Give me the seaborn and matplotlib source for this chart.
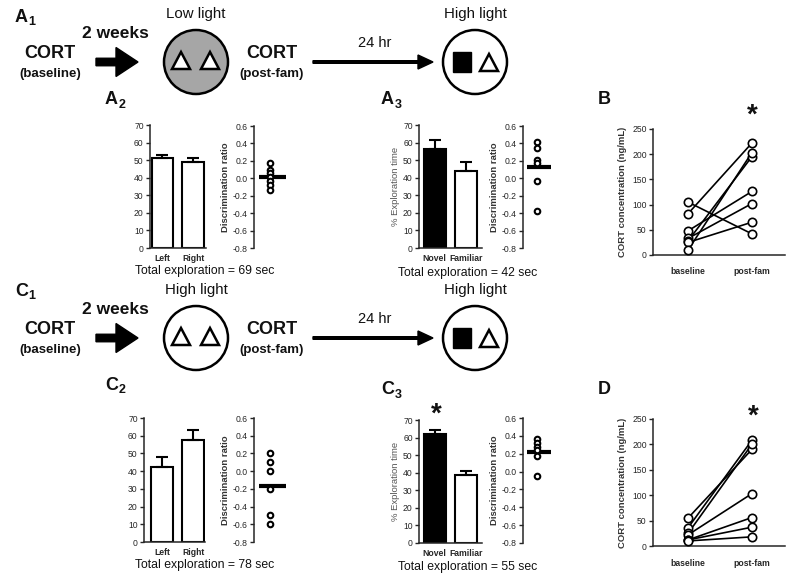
import matplotlib
matplotlib.use('Agg')
import matplotlib.pyplot as plt
from matplotlib.patches import Circle, Polygon, Rectangle, FancyArrow
import numpy as np
import pandas as pd
import seaborn as sns

W, H = 800, 576

# A2 / C2: familiarisation, exploration of left vs right object
a2_objects = ['Left', 'Right']
a2_means = [51.0, 49.0]
a2_sem = [2.0, 2.0]
a2_ratio = [0.17, 0.10, 0.06, 0.02, -0.03, -0.08, -0.13]

a3_objects = ['Novel', 'Familiar']
a3_means = [56.5, 44.0]
a3_sem = [5.0, 5.0]
a3_ratio = [0.42, 0.35, 0.21, 0.18, -0.03, -0.38]

b_baseline = [105, 82, 48, 33, 28, 25, 10]
b_postfam = [42, 222, 126, 102, 195, 65, 203]

c2_objects = ['Left', 'Right']
c2_means = [42.5, 57.5]
c2_sem = [5.5, 5.5]
c2_ratio = [0.20, 0.10, 0.00, -0.20, -0.50, -0.60]

c3_objects = ['Novel', 'Familiar']
c3_means = [62.0, 38.5]
c3_sem = [2.5, 2.5]
c3_ratio = [0.36, 0.32, 0.28, 0.24, 0.17, -0.05]

d_baseline = [55, 36, 25, 22, 12, 12, 10]
d_postfam = [190, 208, 200, 103, 56, 37, 18]

ratio_ticks = [-0.8, -0.6, -0.4, -0.2, 0.0, 0.2, 0.4, 0.6]
time_labels = ['baseline', 'post-fam']

TICK_FS = 6.2

sns.set_theme(style='ticks')
plt.rcParams['font.family'] = ['Liberation Sans', 'DejaVu Sans']
plt.rcParams['axes.unicode_minus'] = False
plt.rcParams['axes.linewidth'] = 1.1
plt.rcParams['text.color'] = '#111111'

fig = plt.figure(figsize=(W / 100, H / 100), dpi=100)


def box(x0, y0, x1, y1):
    '''pixel box (top-left origin) -> figure rect'''
    return [x0 / W, 1 - y1 / H, (x1 - x0) / W, (y1 - y0) / H]


# overlay in pixel coordinates for the schematic and free text
ov = fig.add_axes([0, 0, 1, 1])
ov.set_xlim(0, W)
ov.set_ylim(H, 0)
ov.axis('off')


def panel(x, y, letter, sub=None):
    ov.text(x, y, letter, fontsize=13, fontweight='bold', ha='left', va='center')
    if sub:
        ov.text(x + 13.5, y + 5, sub, fontsize=9, fontweight='bold', ha='left', va='center')


def triangle(cx, yc, w=18, h=17):
    ov.add_patch(Polygon([(cx - w / 2, yc + 7), (cx + w / 2, yc + 7), (cx, yc + 7 - h)],
                         closed=True, facecolor='white', edgecolor='black', lw=1.8, zorder=4))


def schematic(yc, first_label, first_fill):
    ov.text(50, yc - 8, 'CORT', fontsize=13, fontweight='bold', ha='center', va='center')
    ov.text(50, yc + 12, '(baseline)', fontsize=9.5, fontweight='bold', ha='center', va='center')
    ov.text(115, yc - 29, '2 weeks', fontsize=12.5, fontweight='bold', ha='center', va='center')
    ov.add_patch(FancyArrow(96, yc, 42, 0, width=7.5, head_width=29, head_length=22,
                            length_includes_head=True, color='black'))
    ov.add_patch(Circle((196, yc), 32, facecolor=first_fill, edgecolor='black', lw=1.8, zorder=3))
    triangle(181, yc)
    triangle(210, yc)
    ov.text(196, yc - 48, first_label, fontsize=10.8, ha='center', va='center')
    ov.text(272, yc - 8, 'CORT', fontsize=13, fontweight='bold', ha='center', va='center')
    ov.text(272, yc + 12, '(post-fam)', fontsize=9.5, fontweight='bold', ha='center', va='center')
    ov.add_patch(FancyArrow(313, yc, 120, 0, width=2.6, head_width=14, head_length=15,
                            length_includes_head=True, color='black'))
    ov.text(375, yc - 19, '24 hr', fontsize=10.5, ha='center', va='center')
    ov.add_patch(Circle((475, yc), 32, facecolor='white', edgecolor='black', lw=1.8, zorder=3))
    ov.add_patch(Rectangle((453, yc - 10), 18, 20, facecolor='black', edgecolor='black', zorder=4))
    triangle(489, yc + 2)
    ov.text(475, yc - 48, 'High light', fontsize=10.8, ha='center', va='center')


def bar_panel(rect, objects, means, sems, fills, xlim, ylabel=''):
    ax = fig.add_axes(rect)
    sns.barplot(x=objects, y=means, hue=objects, palette=fills, edgecolor='black',
                linewidth=1.5, width=0.7, saturation=1, legend=False, ax=ax)
    ax.errorbar(range(len(means)), means, yerr=[np.zeros(len(sems)), sems], fmt='none',
                ecolor='black', elinewidth=1.5, capsize=4, capthick=1.5)
    ax.set_ylim(0, 70)
    ax.set_yticks(range(0, 71, 10))
    ax.set_xlim(*xlim)
    sns.despine(ax=ax)
    ax.tick_params(axis='x', length=0, labelsize=TICK_FS, pad=4)
    ax.tick_params(axis='y', length=3, width=1, labelsize=TICK_FS, pad=1.5)
    for t in ax.get_xticklabels():
        t.set_fontweight('bold')
    ax.set_xlabel('')
    ax.set_ylabel(ylabel, fontsize=6.8, color='#555555', labelpad=2)
    ax.patch.set_alpha(0)
    return ax


def ratio_panel(rect, ratios):
    ax = fig.add_axes(rect)
    sns.scatterplot(x=np.zeros(len(ratios)), y=ratios, marker='o', s=16, color='white',
                    edgecolor='black', linewidth=1.5, zorder=3, ax=ax)
    ax.hlines(np.mean(ratios), -0.7, 1.0, color='black', lw=3, zorder=2)
    ax.set_xlim(-1, 1)
    ax.set_ylim(-0.8, 0.6)
    ax.set_yticks(ratio_ticks)
    ax.set_yticklabels(['%.1f' % v for v in ratio_ticks])
    ax.set_xticks([])
    sns.despine(ax=ax, bottom=True)
    ax.tick_params(axis='y', length=3, width=1, labelsize=TICK_FS, pad=1.5)
    ax.set_ylabel('Discrimination ratio', fontsize=6.8, fontweight='bold', color='#333333', labelpad=2)
    ax.patch.set_alpha(0)
    return ax


def paired_panel(rect, base, post):
    ax = fig.add_axes(rect)
    n = len(base)
    df = pd.DataFrame({'rat': list(range(n)) * 2,
                       'time': [0] * n + [1] * n,
                       'cort': list(base) + list(post)})
    sns.lineplot(data=df, x='time', y='cort', units='rat', estimator=None,
                 color='black', lw=1.2, ax=ax)
    sns.scatterplot(data=df, x='time', y='cort', s=36, color='white', edgecolor='black',
                    linewidth=1.2, zorder=3, ax=ax)
    ax.set_xlim(-0.55, 1.52)
    ax.set_ylim(0, 250)
    ax.set_yticks(range(0, 251, 50))
    ax.set_xticks([0, 1])
    ax.set_xticklabels(time_labels)
    for t in ax.get_xticklabels():
        t.set_fontweight('bold')
    sns.despine(ax=ax)
    ax.tick_params(axis='x', length=0, labelsize=TICK_FS, pad=9)
    ax.tick_params(axis='y', length=3, width=1, labelsize=TICK_FS, pad=1.5)
    ax.set_xlabel('')
    ax.set_ylabel('CORT concentration (ng/mL)', fontsize=6.8, fontweight='bold',
                  color='#333333', labelpad=4)
    ax.patch.set_alpha(0)
    return ax


# ---- row A ----
panel(15, 17, 'A', '1')
schematic(62, 'Low light', '#a6a6a6')
panel(105, 100, 'A', '2')
panel(381, 100, 'A', '3')
panel(598, 100, 'B')

bar_panel(box(150, 125, 206, 248), a2_objects, a2_means, a2_sem, ['white', 'white'], (-0.4, 1.42))
ratio_panel(box(254, 126, 286, 248), a2_ratio)
ov.text(205, 271, 'Total exploration = 69 sec', fontsize=8.8, ha='center', va='center')

bar_panel(box(419, 125, 482, 248), a3_objects, a3_means, a3_sem, ['black', 'white'],
          (-0.5, 1.5), '% Exploration time')
ratio_panel(box(523, 126, 551, 248), a3_ratio)
ov.text(468, 273, 'Total exploration = 42 sec', fontsize=8.8, ha='center', va='center')

paired_panel(box(653, 129, 785, 255), b_baseline, b_postfam)
ov.text(752, 116, '*', fontsize=20, fontweight='bold', ha='center', va='center')

# ---- row C ----
panel(15, 291, 'C', '1')
schematic(338, 'High light', 'white')
panel(105, 385, 'C', '2')
panel(381, 390, 'C', '3')
panel(598, 390, 'D')

bar_panel(box(144, 418, 205, 542), c2_objects, c2_means, c2_sem, ['white', 'white'], (-0.57, 1.38))
ratio_panel(box(254, 418, 286, 542), c2_ratio)
ov.text(205, 565, 'Total exploration = 78 sec', fontsize=8.8, ha='center', va='center')

bar_panel(box(419, 420, 482, 543), c3_objects, c3_means, c3_sem, ['black', 'white'],
          (-0.5, 1.5), '% Exploration time')
ratio_panel(box(523, 418, 551, 543), c3_ratio)
ov.text(468, 567, 'Total exploration = 55 sec', fontsize=8.8, ha='center', va='center')
ov.text(436, 415, '*', fontsize=20, fontweight='bold', ha='center', va='center')

paired_panel(box(653, 419, 785, 546), d_baseline, d_postfam)
ov.text(753, 417, '*', fontsize=20, fontweight='bold', ha='center', va='center')

fig.savefig('out.png', dpi=100)
